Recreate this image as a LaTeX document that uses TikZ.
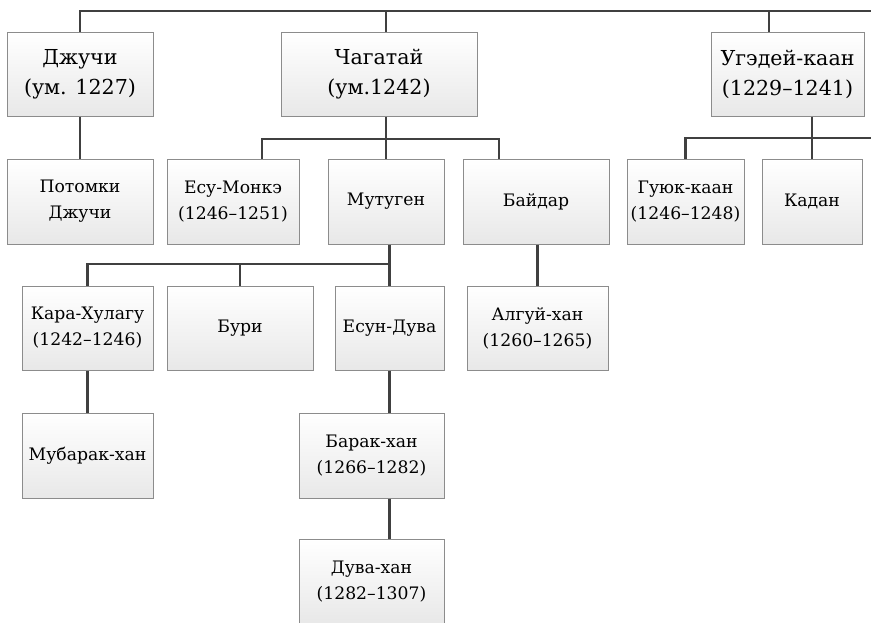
\documentclass[tikz,border=0pt]{standalone}
\usepackage{fontspec}
\setmainfont{DejaVu Serif}
\begin{document}
\begin{tikzpicture}[x=0.5pt, y=-0.5pt,
box/.style={draw=black!45, line width=0.5pt, top color=white, bottom color=black!9,
    align=center, inner sep=0pt, font=\fontsize{8.6}{13}\selectfont},
khan/.style={box, font=\fontsize{10.3}{15}\selectfont},
link/.style={draw=black!75, line width=1.4pt}]
\useasboundingbox (0,0) rectangle (871,622);
\node[khan, minimum width=73pt, minimum height=42pt] (dj) at (80,74) {Джучи\\(ум. 1227)};
\node[khan, minimum width=98pt, minimum height=42pt] (ch) at (379,74) {Чагатай\\(ум.1242)};
\node[khan, minimum width=76.5pt, minimum height=42pt] (ug) at (787.5,74) {Угэдей-каан\\(1229–1241)};
\node[box, minimum width=73pt, minimum height=42.5pt] (pd) at (80,201.5) {Потомки\\Джучи};
\node[box, minimum width=66pt, minimum height=42.5pt] (em) at (233,201.5) {Есу-Монкэ\\(1246–1251)};
\node[box, minimum width=58pt, minimum height=42.5pt] (mu) at (386,201.5) {Мутуген};
\node[box, minimum width=73pt, minimum height=42.5pt] (ba) at (536,201.5) {Байдар};
\node[box, minimum width=58.5pt, minimum height=42.5pt] (gu) at (685.5,201.5) {Гуюк-каан\\(1246–1248)};
\node[box, minimum width=50pt, minimum height=42.5pt] (ka) at (812,201.5) {Кадан};
\node[box, minimum width=65.5pt, minimum height=42pt] (kh) at (87.5,328) {Кара-Хулагу\\(1242–1246)};
\node[box, minimum width=73pt, minimum height=42pt] (bu) at (240,328) {Бури};
\node[box, minimum width=54.5pt, minimum height=42pt] (ed) at (389.5,328) {Есун-Дува};
\node[box, minimum width=70.5pt, minimum height=42pt] (al) at (537.5,328) {Алгуй-хан\\(1260–1265)};
\node[box, minimum width=65.5pt, minimum height=42.5pt] (mb) at (87.5,455.5) {Мубарак-хан};
\node[box, minimum width=72.5pt, minimum height=42.5pt] (bk) at (371.5,455.5) {Барак-хан\\(1266–1282)};
\node[box, minimum width=72.5pt, minimum height=42.5pt] (dv) at (371.5,581.5) {Дува-хан\\(1282–1307)};
\coordinate (topbus) at (871,11);
\coordinate (ugtop) at (769,11);
\coordinate (chbusL) at (262,139);
\coordinate (chbusR) at (499,139);
\coordinate (ugbus) at (871,138);
\coordinate (mubus) at (389.5,264);
\draw[link] (dj.north) |- (topbus);
\draw[link] (mu |- topbus) -- (mu |- ch.north);
\draw[link] (ugtop) -- (ugtop |- ug.north);
\draw[link] (dj.south) -- (pd.north);
\draw[link] (chbusL |- em.north) |- (chbusR) -- (chbusR |- ba.north);
\draw[link] (ch.south -| mu) -- (mu.north);
\draw[link] (gu.north) |- (ugbus);
\draw[link] (ug.south -| ka) -- (ka.north);
\draw[link] (kh.north) |- (mubus);
\draw[link] (bu.north) -- (bu |- mubus);
\draw[link] (mu.south -| ed) -- (ed.north);
\draw[link] (ba.south -| al) -- (al.north);
\draw[link] (kh.south) -- (mb.north);
\draw[link] (ed.south) -- (ed |- bk.north);
\draw[link] (ed |- bk.south) -- (ed |- dv.north);
\end{tikzpicture}
\end{document}
